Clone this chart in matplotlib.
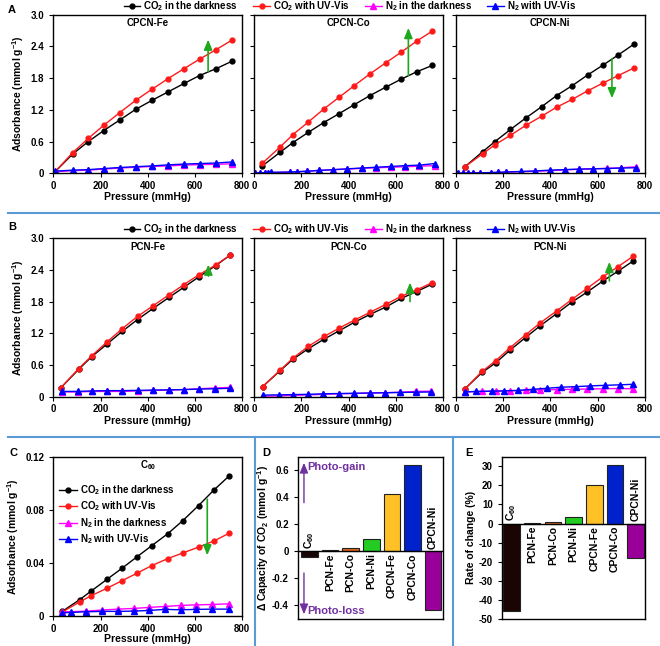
import numpy as np
import matplotlib
matplotlib.use('Agg')
import matplotlib.pyplot as plt
from matplotlib.lines import Line2D

# === DATA ===
# CO2 isotherms, pressure in mmHg, uptake in mmol/g
p_cpcn_fe = [5, 82, 148, 214, 282, 349, 418, 486, 554, 620, 690, 757]
dark_cpcn_fe = [0.02, 0.365, 0.60, 0.81, 1.01, 1.21, 1.38, 1.54, 1.70, 1.85, 1.98, 2.12]
uv_cpcn_fe = [0.02, 0.39, 0.66, 0.91, 1.15, 1.38, 1.59, 1.79, 1.98, 2.16, 2.34, 2.52]

p_cpcn_co = [34, 110, 163, 229, 294, 360, 424, 490, 557, 622, 688, 754]
dark_cpcn_co = [0.14, 0.40, 0.58, 0.775, 0.96, 1.13, 1.30, 1.47, 1.63, 1.78, 1.92, 2.04]
uv_cpcn_co = [0.19, 0.50, 0.73, 0.97, 1.215, 1.44, 1.66, 1.88, 2.09, 2.29, 2.50, 2.69]

p_cpcn_ni = [38, 113, 165, 231, 297, 363, 426, 493, 558, 624, 688, 753]
dark_cpcn_ni = [0.125, 0.41, 0.60, 0.83, 1.05, 1.26, 1.47, 1.66, 1.86, 2.05, 2.24, 2.44]
uv_cpcn_ni = [0.125, 0.37, 0.54, 0.72, 0.91, 1.08, 1.25, 1.40, 1.56, 1.71, 1.85, 1.99]

p_pcn_fe = [32, 107, 162, 226, 293, 357, 423, 491, 553, 618, 688, 750]
dark_pcn_fe = [0.17, 0.515, 0.755, 0.99, 1.24, 1.46, 1.67, 1.88, 2.07, 2.27, 2.48, 2.68]
uv_pcn_fe = [0.17, 0.53, 0.77, 1.03, 1.29, 1.52, 1.72, 1.93, 2.12, 2.31, 2.49, 2.68]

p_pcn_co = [35, 109, 164, 228, 296, 361, 425, 492, 559, 623, 688, 755]
dark_pcn_co = [0.19, 0.49, 0.71, 0.905, 1.09, 1.25, 1.41, 1.56, 1.70, 1.86, 1.99, 2.13]
uv_pcn_co = [0.19, 0.50, 0.73, 0.95, 1.14, 1.30, 1.45, 1.60, 1.75, 1.90, 2.02, 2.16]

p_pcn_ni = [38, 111, 168, 230, 295, 358, 426, 491, 556, 623, 687, 752]
dark_pcn_ni = [0.15, 0.46, 0.64, 0.885, 1.12, 1.345, 1.57, 1.79, 1.98, 2.19, 2.375, 2.57]
uv_pcn_ni = [0.15, 0.48, 0.68, 0.93, 1.17, 1.40, 1.62, 1.84, 2.05, 2.27, 2.46, 2.66]

p_c60 = [38, 112, 161, 227, 291, 355, 417, 484, 548, 615, 680, 745]
dark_c60 = [0.0035, 0.0124, 0.0189, 0.0276, 0.036, 0.0447, 0.053, 0.0619, 0.0718, 0.0832, 0.0949, 0.1056]
uv_c60 = [0.003, 0.0107, 0.0154, 0.0209, 0.0266, 0.0323, 0.038, 0.0432, 0.0475, 0.0519, 0.0565, 0.0624]

# N2 isotherms
pn_cpcn_fe = [5, 82, 148, 214, 282, 349, 418, 486, 554, 620, 690, 757]
n2_dark_cpcn_fe = [0.03, 0.05, 0.06, 0.08, 0.10, 0.115, 0.13, 0.14, 0.155, 0.165, 0.17, 0.18]
n2_uv_cpcn_fe = [0.04, 0.06, 0.07, 0.09, 0.11, 0.125, 0.14, 0.16, 0.175, 0.185, 0.195, 0.215]

pn_cpcn_co = [5, 25, 45, 60, 70, 150, 180, 225, 275, 335, 395, 455, 515, 580, 640, 700, 765]
n2_dark_cpcn_co = [0.0, 0.005, 0.01, 0.012, 0.015, 0.022, 0.028, 0.04, 0.055, 0.068, 0.08, 0.095,
                   0.105, 0.115, 0.125, 0.135, 0.145]
n2_uv_cpcn_co = [0.005, 0.008, 0.012, 0.015, 0.018, 0.025, 0.03, 0.04, 0.055, 0.07, 0.085, 0.1,
                 0.115, 0.13, 0.145, 0.155, 0.185]

pn_cpcn_ni = [10, 30, 50, 70, 100, 150, 180, 210, 275, 335, 400, 460, 520, 580, 640, 700, 765]
n2_dark_cpcn_ni = [0.0, 0.0, 0.003, 0.005, 0.008, 0.012, 0.016, 0.02, 0.03, 0.04, 0.05, 0.065,
                   0.075, 0.085, 0.095, 0.105, 0.125]
n2_uv_cpcn_ni = [0.0, 0.0, 0.005, 0.005, 0.01, 0.015, 0.02, 0.025, 0.035, 0.045, 0.06, 0.07,
                 0.08, 0.085, 0.09, 0.1, 0.105]

pn_pcn_fe = [35, 105, 165, 228, 293, 357, 423, 490, 553, 618, 685, 750]
n2_dark_pcn_fe = [0.09, 0.09, 0.10, 0.10, 0.10, 0.11, 0.12, 0.125, 0.135, 0.15, 0.165, 0.175]
n2_uv_pcn_fe = [0.10, 0.10, 0.11, 0.115, 0.115, 0.12, 0.125, 0.13, 0.135, 0.145, 0.15, 0.16]

pn_pcn_co = [35, 105, 165, 228, 293, 357, 423, 490, 553, 618, 685, 750]
n2_dark_pcn_co = [0.01, 0.015, 0.025, 0.035, 0.045, 0.055, 0.06, 0.07, 0.075, 0.085, 0.1, 0.105]
n2_uv_pcn_co = [0.03, 0.035, 0.04, 0.045, 0.055, 0.06, 0.065, 0.07, 0.075, 0.08, 0.085, 0.09]

pn_dark_pcn_ni = [38, 111, 168, 230, 295, 358, 426, 491, 556, 623, 687, 752]
n2_dark_pcn_ni = [0.09, 0.10, 0.105, 0.11, 0.12, 0.13, 0.135, 0.14, 0.145, 0.15, 0.155, 0.15]
pn_uv_pcn_ni = [38, 83, 151, 203, 264, 325, 387, 446, 508, 570, 632, 693, 752]
n2_uv_pcn_ni = [0.09, 0.10, 0.105, 0.11, 0.12, 0.14, 0.16, 0.18, 0.19, 0.205, 0.215, 0.225, 0.235]

pn_dark_c60 = [38, 140, 207, 273, 340, 406, 473, 540, 606, 671, 745]
n2_dark_c60 = [0.003, 0.0037, 0.0045, 0.0052, 0.0057, 0.0065, 0.0072, 0.008, 0.0084, 0.0087, 0.0092]
pn_uv_c60 = [38, 74, 140, 207, 273, 340, 406, 473, 540, 606, 671, 745]
n2_uv_c60 = [0.0025, 0.0027, 0.0032, 0.0035, 0.0035, 0.0037, 0.0042, 0.005, 0.0047, 0.005, 0.0052, 0.0052]

# bar charts (D, E)
samples = ['C$_{60}$', 'PCN-Fe', 'PCN-Co', 'PCN-Ni', 'CPCN-Fe', 'CPCN-Co', 'CPCN-Ni']
delta_capacity = [-0.044, 0.012, 0.022, 0.093, 0.424, 0.64, -0.437]
rate_change = [-45.7, 0.3, 0.8, 3.3, 20.0, 30.9, -18.3]
bar_colors = ['#1a0505', '#8b1a1a', '#e0661a', '#22cc22', '#ffc125', '#0022cc', '#990099']

# green arrows: x, start, end
arrow_x = [656, 653, 661, 657, 660, 650, 652]
arrow_from = [1.92, 1.85, 2.17, 2.28, 1.80, 2.19, 0.088]
arrow_to = [2.53, 2.75, 1.42, 2.50, 2.16, 2.55, 0.0457]

# === STYLE ===
plt.rcParams['font.family'] = 'Liberation Sans'
plt.rcParams['font.weight'] = 'bold'
plt.rcParams['axes.labelweight'] = 'bold'
plt.rcParams['mathtext.fontset'] = 'custom'
plt.rcParams['mathtext.rm'] = 'Liberation Sans:bold'
plt.rcParams['mathtext.bf'] = 'Liberation Sans:bold'
plt.rcParams['mathtext.it'] = 'Liberation Sans:bold:italic'
plt.rcParams['mathtext.default'] = 'rm'
plt.rcParams['axes.unicode_minus'] = False
plt.rcParams['axes.linewidth'] = 1.0
plt.rcParams['xtick.major.size'] = 3
plt.rcParams['ytick.major.size'] = 3
plt.rcParams['xtick.major.pad'] = 2.5
plt.rcParams['xtick.labelsize'] = 7
plt.rcParams['ytick.labelsize'] = 7
plt.rcParams['axes.labelsize'] = 7.5

GREEN = '#1fa81f'
PURPLE = '#7030a0'
SEP = '#5b9bd5'
LABELS = ['CO$_2$ in the darkness', 'CO$_2$ with UV-Vis',
          'N$_2$ in the darkness', 'N$_2$ with UV-Vis']


def isotherm(ax, p, dark, uv, pn_d, n_d, pn_u, n_u, title, k, first, ymax, yticks, ytl):
    ax.plot(p, dark, '-o', color='k', lw=1, ms=3.5, label=LABELS[0])
    ax.plot(p, uv, '-o', color='#ff1a1a', lw=1, ms=3.5, label=LABELS[1])
    ax.plot(pn_d, n_d, '-^', color='#ff00ff', lw=1, ms=3.8, label=LABELS[2])
    ax.plot(pn_u, n_u, '-^', color='#0000ff', lw=1, ms=3.8, label=LABELS[3])
    ax.annotate('', xy=(arrow_x[k], arrow_to[k]), xytext=(arrow_x[k], arrow_from[k]),
                arrowprops=dict(arrowstyle='-|>,head_length=0.6,head_width=0.25',
                                color=GREEN, lw=1.2, shrinkA=0, shrinkB=0,
                                mutation_scale=10))
    ax.set_xlim(0, 800)
    ax.set_ylim(0, ymax)
    ax.set_xticks([0, 200, 400, 600, 800])
    ax.set_yticks(yticks)
    ax.set_yticklabels(ytl)
    ax.set_xlabel('Pressure (mmHg)', labelpad=1)
    ax.text(0.5, 0.945, title, transform=ax.transAxes, ha='center', va='center', fontsize=7)
    if first:
        ax.set_ylabel('Adsorbance (mmol g$^{-1}$)', labelpad=3)
    else:
        ax.tick_params(labelleft=False)


def bars(ax, values, off):
    x = np.arange(len(samples))
    ax.bar(x, values, width=0.8, color=bar_colors, edgecolor='#222222', lw=0.8, zorder=2)
    ax.axhline(0, color='k', lw=1, zorder=3)
    for i, (lab, v) in enumerate(zip(samples, values)):
        if v >= 0:
            ax.text(i, -off, lab, rotation=90, ha='center', va='top', fontsize=7.5)
        else:
            ax.text(i, off, lab, rotation=90, ha='center', va='bottom', fontsize=7.5)
    ax.set_xticks([])
    ax.set_xlim(-0.56, 6.48)


fig = plt.figure(figsize=(6.6, 6.46), dpi=100)

lefts = [0.0808, 0.3853, 0.6909]
w = 0.286
yt3 = [0, 0.6, 1.2, 1.8, 2.4, 3.0]
ytl3 = ['0', '0.6', '1.2', '1.8', '2.4', '3.0']

row_a = [(p_cpcn_fe, dark_cpcn_fe, uv_cpcn_fe, pn_cpcn_fe, n2_dark_cpcn_fe, pn_cpcn_fe, n2_uv_cpcn_fe, 'CPCN-Fe'),
         (p_cpcn_co, dark_cpcn_co, uv_cpcn_co, pn_cpcn_co, n2_dark_cpcn_co, pn_cpcn_co, n2_uv_cpcn_co, 'CPCN-Co'),
         (p_cpcn_ni, dark_cpcn_ni, uv_cpcn_ni, pn_cpcn_ni, n2_dark_cpcn_ni, pn_cpcn_ni, n2_uv_cpcn_ni, 'CPCN-Ni')]
row_b = [(p_pcn_fe, dark_pcn_fe, uv_pcn_fe, pn_pcn_fe, n2_dark_pcn_fe, pn_pcn_fe, n2_uv_pcn_fe, 'PCN-Fe'),
         (p_pcn_co, dark_pcn_co, uv_pcn_co, pn_pcn_co, n2_dark_pcn_co, pn_pcn_co, n2_uv_pcn_co, 'PCN-Co'),
         (p_pcn_ni, dark_pcn_ni, uv_pcn_ni, pn_dark_pcn_ni, n2_dark_pcn_ni, pn_uv_pcn_ni, n2_uv_pcn_ni, 'PCN-Ni')]

k = 0
for row, bottom, legy in [(row_a, 0.7317, 0.991), (row_b, 0.3859, 0.6455)]:
    axs = []
    for j, d in enumerate(row):
        ax = fig.add_axes([lefts[j], bottom, w, 0.2455])
        isotherm(ax, *d, k, j == 0, 3.0, yt3, ytl3)
        axs.append(ax)
        k += 1
    h, l = axs[0].get_legend_handles_labels()
    fig.legend(h, l, loc='center', bbox_to_anchor=(0.53, legy), ncol=4, frameon=False,
               fontsize=7, handlelength=1.7, handletextpad=0.3, columnspacing=1.6,
               borderaxespad=0, borderpad=0)

# panel C
axc = fig.add_axes([0.0808, 0.0464, 0.2862, 0.2466])
isotherm(axc, p_c60, dark_c60, uv_c60, pn_dark_c60, n2_dark_c60, pn_uv_c60, n2_uv_c60,
         'C$_{60}$', 6, True, 0.12, [0, 0.04, 0.08, 0.12], ['0', '0.04', '0.08', '0.12'])
axc.set_xlabel('Pressure (mmHg)', labelpad=0)
axc.legend(loc='upper left', bbox_to_anchor=(0.01, 0.86), frameon=False, fontsize=7,
           handlelength=1.8, handletextpad=0.3, labelspacing=0.28, borderaxespad=0)

# panel D
axd = fig.add_axes([0.4515, 0.0418, 0.2197, 0.2512])
bars(axd, delta_capacity, 0.015)
axd.set_ylim(-0.5, 0.7)
axd.set_yticks([-0.4, -0.2, 0, 0.2, 0.4, 0.6])
axd.set_yticklabels(['-0.4', '-0.2', '0', '0.2', '0.4', '0.6'])
axd.set_ylabel('Δ Capacity of CO$_2$ (mmol g$^{-1}$)', labelpad=1)
axd.annotate('', xy=(-0.27, 0.655), xytext=(-0.27, 0.36),
             arrowprops=dict(arrowstyle='-|>,head_length=0.6,head_width=0.25', color=PURPLE,
                             lw=1, shrinkA=0, shrinkB=0, mutation_scale=10))
axd.annotate('', xy=(-0.27, -0.465), xytext=(-0.27, -0.16),
             arrowprops=dict(arrowstyle='-|>,head_length=0.6,head_width=0.25', color=PURPLE,
                             lw=1, shrinkA=0, shrinkB=0, mutation_scale=10))
axd.text(-0.1, 0.625, 'Photo-gain', color=PURPLE, fontsize=8, va='center')
axd.text(-0.1, -0.44, 'Photo-loss', color=PURPLE, fontsize=8, va='center')

# panel E
axe = fig.add_axes([0.7606, 0.0418, 0.2167, 0.2512])
bars(axe, rate_change, 1.2)
axe.set_xlim(-0.46, 6.45)
axe.set_ylim(-50, 35)
axe.set_yticks(list(range(-50, 31, 10)))
axe.set_ylabel('Rate of change (%)', labelpad=2)

# panel letters
for lab, x, y in [('A', 0.012, 0.984), ('B', 0.012, 0.648), ('C', 0.015, 0.298),
                  ('D', 0.398, 0.298), ('E', 0.705, 0.298)]:
    fig.text(x, y, lab, fontsize=8, ha='left', va='center')

# separator lines
fig.add_artist(Line2D([0.012, 1.0], [0.670, 0.670], color=SEP, lw=1.5))
fig.add_artist(Line2D([0.012, 1.0], [0.3235, 0.3235], color=SEP, lw=1.5))
fig.add_artist(Line2D([0.3864, 0.3864], [0.0, 0.3235], color=SEP, lw=1.5))
fig.add_artist(Line2D([0.686, 0.686], [0.0, 0.3235], color=SEP, lw=1.5))

fig.savefig('out.png', dpi=100)
